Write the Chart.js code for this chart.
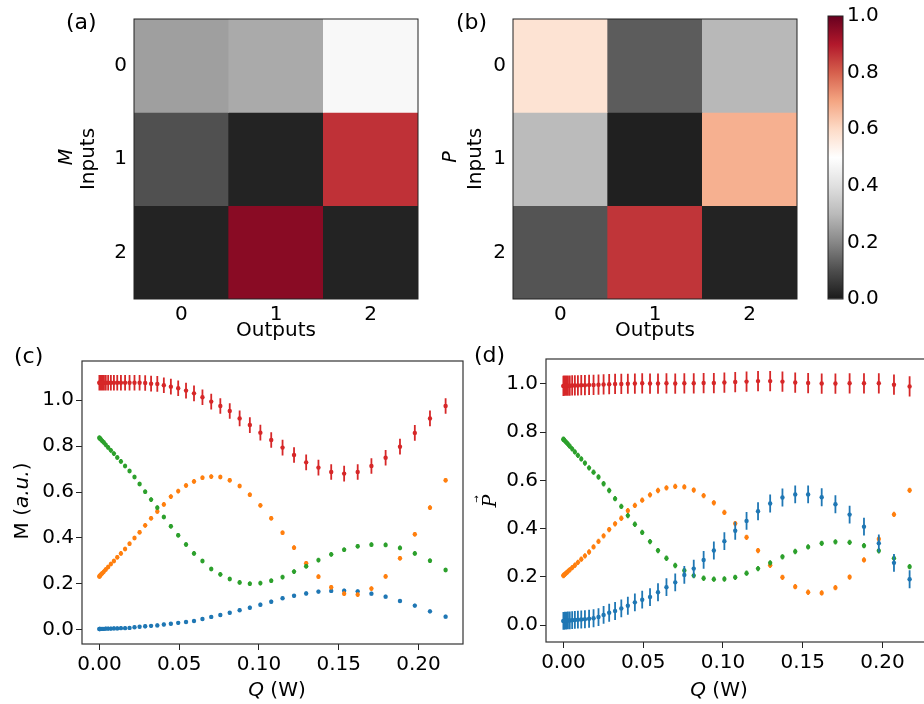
<!DOCTYPE html>
<html>
<head>
<meta charset="utf-8">
<script src="https://cdn.jsdelivr.net/npm/chart.js@4.4.0/dist/chart.umd.min.js"></script>
<style>
  html, body { margin: 0; padding: 0; background: #fff; }
  #fig { position: relative; width: 924px; height: 704px; overflow: hidden; background: #fff; }
  #fig canvas { position: absolute; }
  .panel { position: absolute; font-family: "DejaVu Sans", sans-serif; font-size: 22px; line-height: 22px; color: #000; }
</style>
</head>
<body>
<div id="fig">
  <canvas id="heatM" width="430" height="343" style="left:0;top:0"></canvas>
  <canvas id="heatP" width="380" height="343" style="left:430px;top:0"></canvas>
  <canvas id="cbar" width="114" height="343" style="left:810px;top:0"></canvas>
  <canvas id="curveM" width="470" height="364" style="left:0;top:340px"></canvas>
  <canvas id="curveP" width="475" height="364" style="left:470px;top:340px"></canvas>
  <div class="panel" style="left:66px;top:11px">(a)</div>
  <div class="panel" style="left:456px;top:11px">(b)</div>
  <div class="panel" style="left:14px;top:345px">(c)</div>
  <div class="panel" style="left:474px;top:344px">(d)</div>
</div>
<script>
// ---- heatmaps ----
const inputLabels = ['0', '1', '2'];
const outputLabels = ['0', '1', '2'];
const matM = [
  [0.247, 0.269, 0.477],
  [0.105, 0.018, 0.865],
  [0.018, 0.955, 0.018],
];
const matP = [
  [0.578, 0.126, 0.296],
  [0.302, 0.012, 0.680],
  [0.112, 0.860, 0.018],
];
const cbarTicks = [0, 0.2, 0.4, 0.6, 0.8, 1.0];

// ---- curves vs heater power ----
const qW = [0, 0.0001, 0.0004, 0.0010, 0.0018, 0.0028, 0.0040, 0.0055, 0.0072, 0.0091,
  0.0112, 0.0135, 0.0161, 0.0189, 0.0220, 0.0252, 0.0287, 0.0324, 0.0363, 0.0404,
  0.0448, 0.0494, 0.0543, 0.0593, 0.0646, 0.0701, 0.0758, 0.0817, 0.0879, 0.0943,
  0.1009, 0.1077, 0.1148, 0.1220, 0.1296, 0.1373, 0.1453, 0.1534, 0.1619, 0.1705,
  0.1794, 0.1884, 0.1977, 0.2072, 0.2170];
const qTicks = [0, 0.05, 0.10, 0.15, 0.20];
const yTicks = [0, 0.2, 0.4, 0.6, 0.8, 1.0];

const mBlue = [0.004, 0.004, 0.004, 0.005, 0.005, 0.005, 0.006, 0.006, 0.006, 0.007,
  0.007, 0.008, 0.008, 0.009, 0.012, 0.014, 0.016, 0.018, 0.020, 0.024,
  0.027, 0.031, 0.035, 0.039, 0.048, 0.057, 0.065, 0.075, 0.086, 0.097,
  0.110, 0.123, 0.138, 0.149, 0.159, 0.167, 0.170, 0.171, 0.168, 0.158,
  0.145, 0.126, 0.106, 0.081, 0.058];
const mOrange = [0.233, 0.234, 0.237, 0.241, 0.247, 0.254, 0.263, 0.274, 0.287, 0.300,
  0.316, 0.333, 0.352, 0.375, 0.400, 0.425, 0.455, 0.486, 0.515, 0.546,
  0.580, 0.604, 0.628, 0.646, 0.662, 0.667, 0.665, 0.651, 0.626, 0.588,
  0.542, 0.486, 0.423, 0.358, 0.290, 0.232, 0.186, 0.158, 0.154, 0.180,
  0.233, 0.312, 0.416, 0.532, 0.651];
const mGreen = [0.836, 0.835, 0.832, 0.828, 0.822, 0.815, 0.805, 0.794, 0.781, 0.767,
  0.750, 0.733, 0.713, 0.691, 0.665, 0.635, 0.601, 0.567, 0.532, 0.491,
  0.451, 0.412, 0.372, 0.333, 0.300, 0.265, 0.242, 0.222, 0.207, 0.201,
  0.204, 0.214, 0.230, 0.254, 0.277, 0.304, 0.329, 0.349, 0.364, 0.371,
  0.370, 0.357, 0.333, 0.301, 0.261];
const mRed = [1.075, 1.075, 1.075, 1.075, 1.075, 1.075, 1.075, 1.075, 1.075, 1.075,
  1.075, 1.075, 1.075, 1.075, 1.075, 1.075, 1.074, 1.071, 1.070, 1.064,
  1.058, 1.051, 1.041, 1.029, 1.012, 0.993, 0.974, 0.952, 0.920, 0.891,
  0.858, 0.826, 0.793, 0.761, 0.729, 0.706, 0.687, 0.680, 0.687, 0.713,
  0.749, 0.797, 0.857, 0.920, 0.974];
const mBlueErr = 0.008, mOrangeErr = 0.010, mGreenErr = 0.010, mRedErr = 0.034;

const pBlue = [0.017, 0.017, 0.017, 0.018, 0.018, 0.019, 0.019, 0.020, 0.021, 0.022,
  0.023, 0.024, 0.026, 0.028, 0.033, 0.042, 0.051, 0.058, 0.069, 0.080,
  0.094, 0.105, 0.116, 0.136, 0.157, 0.177, 0.208, 0.234, 0.270, 0.309,
  0.348, 0.391, 0.432, 0.472, 0.504, 0.529, 0.542, 0.542, 0.530, 0.501,
  0.458, 0.408, 0.339, 0.258, 0.190];
const pOrange = [0.205, 0.206, 0.208, 0.211, 0.216, 0.222, 0.229, 0.238, 0.248, 0.260,
  0.273, 0.287, 0.303, 0.324, 0.347, 0.370, 0.396, 0.420, 0.443, 0.474,
  0.496, 0.518, 0.540, 0.558, 0.569, 0.575, 0.573, 0.560, 0.537, 0.507,
  0.467, 0.421, 0.364, 0.309, 0.248, 0.198, 0.159, 0.136, 0.133, 0.155,
  0.199, 0.270, 0.357, 0.459, 0.559];
const pGreen = [0.771, 0.770, 0.768, 0.764, 0.758, 0.751, 0.742, 0.731, 0.718, 0.704,
  0.689, 0.672, 0.652, 0.634, 0.614, 0.586, 0.558, 0.524, 0.492, 0.454,
  0.418, 0.384, 0.346, 0.309, 0.277, 0.247, 0.226, 0.205, 0.194, 0.190,
  0.191, 0.198, 0.215, 0.234, 0.258, 0.283, 0.305, 0.324, 0.339, 0.345,
  0.343, 0.329, 0.308, 0.277, 0.242];
const pRed = [0.992, 0.992, 0.993, 0.993, 0.993, 0.993, 0.993, 0.994, 0.994, 0.994,
  0.995, 0.995, 0.996, 0.996, 0.997, 0.998, 0.999, 1.000, 1.000, 1.001,
  1.002, 1.003, 1.002, 1.002, 1.003, 1.002, 1.003, 1.003, 1.004, 1.004,
  1.006, 1.008, 1.010, 1.012, 1.012, 1.010, 1.006, 1.004, 1.002, 1.002,
  1.003, 1.003, 1.003, 0.997, 0.990];
const pBlueErr = 0.037, pOrangeErr = 0.011, pGreenErr = 0.011, pRedErr = 0.042;

const BLUE = '#1f77b4', ORANGE = '#ff7f0e', GREEN = '#2ca02c', RED = '#d62728';

Chart.defaults.font.family = '"DejaVu Sans", sans-serif';
Chart.defaults.font.size = 20;
Chart.defaults.color = '#000';
Chart.defaults.animation = false;

// RdGy reversed colour map
const rdgyR = ['#1a1a1a', '#4d4d4d', '#878787', '#bababa', '#e0e0e0', '#ffffff',
  '#fddbc7', '#f4a582', '#d6604d', '#b2182b', '#67001f'];
const hexRgb = (h) => [1, 3, 5].map((i) => parseInt(h.slice(i, i + 2), 16));
function cmap(v) {
  const t = Math.min(Math.max(v, 0), 1) * 10;
  const i = Math.min(Math.floor(t), 9);
  const f = t - i;
  const a = hexRgb(rdgyR[i]), b = hexRgb(rdgyR[i + 1]);
  return 'rgb(' + a.map((x, k) => Math.round(x + (b[k] - x) * f)).join(',') + ')';
}

const framePlugin = (color, width) => ({
  id: 'frame',
  afterDatasetsDraw(chart) {
    const { ctx, chartArea: a } = chart;
    ctx.save();
    ctx.strokeStyle = color;
    ctx.lineWidth = width;
    ctx.strokeRect(a.left, a.top, a.right - a.left, a.bottom - a.top);
    ctx.restore();
  },
});

// labels with mixed italic / upright pieces, drawn at a baseline centre point
const textPlugin = (items) => ({
  id: 'richText',
  afterDraw(chart) {
    const ctx = chart.ctx;
    items.forEach((item) => {
      ctx.save();
      ctx.translate(item.x, item.y);
      ctx.rotate(item.rot || 0);
      ctx.fillStyle = '#000';
      ctx.textBaseline = 'alphabetic';
      ctx.textAlign = 'left';
      const fonts = item.parts.map((p) =>
        (p.italic ? 'italic ' : '') + (p.size || 20) + 'px ' + (p.family || '"DejaVu Sans"'));
      const widths = item.parts.map((p, i) => { ctx.font = fonts[i]; return ctx.measureText(p.text).width; });
      let cx = -widths.reduce((s, w) => s + w, 0) / 2;
      item.parts.forEach((p, i) => {
        ctx.font = fonts[i];
        ctx.fillText(p.text, cx, 0);
        cx += widths[i];
      });
      ctx.restore();
    });
  },
});

const UP = -Math.PI / 2;

function heatmap(id, mat, padLeft, yWidth, padRight, extra) {
  return new Chart(document.getElementById(id), {
    type: 'bar',
    data: {
      labels: outputLabels,
      datasets: mat.map((row, r) => ({
        label: 'Input ' + inputLabels[r],
        data: row.map(() => 1), // one row unit per cell
        backgroundColor: row.map(cmap),
        borderWidth: 0,
        barPercentage: 1,
        categoryPercentage: 1,
      })),
    },
    options: {
      responsive: false,
      layout: { padding: { left: padLeft, top: 15, right: padRight, bottom: 0 } },
      plugins: { legend: { display: false }, tooltip: { enabled: false } },
      scales: {
        x: {
          stacked: true,
          grid: { display: false, drawTicks: false },
          border: { display: false },
          ticks: { padding: 4 },
          title: { display: true, text: 'Outputs', padding: 0 },
          afterFit: (s) => { s.height = 44; },
        },
        y: {
          stacked: true, min: 0, max: 3, reverse: true,
          grid: { display: false, drawTicks: false },
          border: { display: false },
          afterBuildTicks: (s) => { s.ticks = inputLabels.map((_, i) => ({ value: i + 0.5 })); },
          ticks: { padding: 7, callback: (v) => inputLabels[Math.floor(v)] },
          title: { display: true, text: 'Inputs', padding: 0 },
          afterFit: (s) => { s.width = yWidth; },
        },
      },
    },
    plugins: [framePlugin('#222', 1), textPlugin(extra)],
  });
}

heatmap('heatM', matM, 77, 57, 12, [
  { x: 72, y: 157, rot: UP, parts: [{ text: 'M', italic: true, size: 19 }] },
]);
heatmap('heatP', matP, 34, 49, 13, [
  { x: 26, y: 157, rot: UP, parts: [{ text: 'P', italic: true, size: 19 }] },
]);

// colour bar
new Chart(document.getElementById('cbar'), {
  type: 'bar',
  data: {
    labels: [''],
    datasets: [{
      data: [[cbarTicks[0], cbarTicks[cbarTicks.length - 1]]],
      backgroundColor: (c) => {
        const chart = c.chart;
        if (!chart.chartArea) return null;
        const y = chart.scales.y;
        const g = chart.ctx.createLinearGradient(0, y.getPixelForValue(0), 0, y.getPixelForValue(1));
        rdgyR.forEach((col, i) => g.addColorStop(i / (rdgyR.length - 1), col));
        return g;
      },
      borderWidth: 0,
      barPercentage: 1,
      categoryPercentage: 1,
    }],
  },
  options: {
    responsive: false,
    layout: { padding: { left: 18, top: 15, right: 0, bottom: 44 } },
    plugins: { legend: { display: false }, tooltip: { enabled: false } },
    scales: {
      x: { display: false },
      y: {
        position: 'right', min: 0, max: 1,
        afterBuildTicks: (s) => { s.ticks = cbarTicks.map((v) => ({ value: v })); },
        ticks: { padding: 4, callback: (v) => v.toFixed(1) },
        grid: { drawOnChartArea: false, drawTicks: false },
        border: { display: false },
        afterFit: (s) => { s.width = 81; },
      },
    },
  },
  plugins: [framePlugin('#222', 1)],
});

function errorBars(ys, err, color) {
  return {
    data: qW.flatMap((x, i) => [{ x, y: ys[i] - err }, { x, y: ys[i] + err }, { x, y: null }]),
    showLine: true, spanGaps: false,
    borderColor: color, borderWidth: 1.8,
    pointRadius: 0, pointHoverRadius: 0,
  };
}
function markers(ys, color) {
  return {
    data: qW.map((x, i) => ({ x, y: ys[i] })),
    pointStyle: 'circle', pointRadius: 2.2, pointHoverRadius: 2.2,
    backgroundColor: color, borderWidth: 0,
  };
}

function curveChart(id, series, yMin, yMax, pad, yWidth, xHeight, extra) {
  const datasets = [];
  series.forEach(([ys, err, color]) => {
    datasets.push(markers(ys, color));
    datasets.push(errorBars(ys, err, color));
  });
  const tickGrid = { drawOnChartArea: false, tickLength: 6, tickColor: '#222', tickWidth: 1 };
  return new Chart(document.getElementById(id), {
    type: 'scatter',
    data: { datasets },
    options: {
      responsive: false,
      layout: { padding: pad },
      plugins: { legend: { display: false }, tooltip: { enabled: false } },
      scales: {
        x: {
          type: 'linear', min: -0.0109, max: 0.2279,
          afterBuildTicks: (s) => { s.ticks = qTicks.map((v) => ({ value: v })); },
          ticks: { padding: 3, autoSkip: false, maxRotation: 0, callback: (v) => v.toFixed(2) },
          grid: tickGrid,
          border: { display: false },
          afterFit: (s) => { s.height = xHeight; },
        },
        y: {
          type: 'linear', min: yMin, max: yMax,
          afterBuildTicks: (s) => { s.ticks = yTicks.map((v) => ({ value: v })); },
          ticks: { padding: 2, autoSkip: false, callback: (v) => v.toFixed(1) },
          grid: tickGrid,
          border: { display: false },
          afterFit: (s) => { s.width = yWidth; },
        },
      },
    },
    plugins: [framePlugin('#333', 1.2), textPlugin(extra)],
  });
}

curveChart('curveM', [
  [mRed, mRedErr, RED],
  [mGreen, mGreenErr, GREEN],
  [mOrange, mOrangeErr, ORANGE],
  [mBlue, mBlueErr, BLUE],
], -0.0609, 1.1696, { left: 0, top: 21, right: 7, bottom: 0 }, 82, 60, [
  { x: 28, y: 161, rot: UP, parts: [{ text: 'M (' }, { text: 'a.u.', italic: true }, { text: ')' }] },
  { x: 277, y: 356, parts: [{ text: 'Q', italic: true }, { text: ' (W)' }] },
]);

curveChart('curveP', [
  [pRed, pRedErr, RED],
  [pBlue, pBlueErr, BLUE],
  [pGreen, pGreenErr, GREEN],
  [pOrange, pOrangeErr, ORANGE],
], -0.0705, 1.1037, { left: 0, top: 19, right: 18, bottom: 0 }, 76, 62, [
  { x: 26, y: 161, rot: UP, parts: [{ text: 'P', italic: true, size: 19, family: '"DejaVu Serif"' }] },
  { x: 9, y: 159, rot: UP, parts: [{ text: '\u2192', size: 9 }] },
  { x: 249, y: 356, parts: [{ text: 'Q', italic: true }, { text: ' (W)' }] },
]);
</script>
</body>
</html>
